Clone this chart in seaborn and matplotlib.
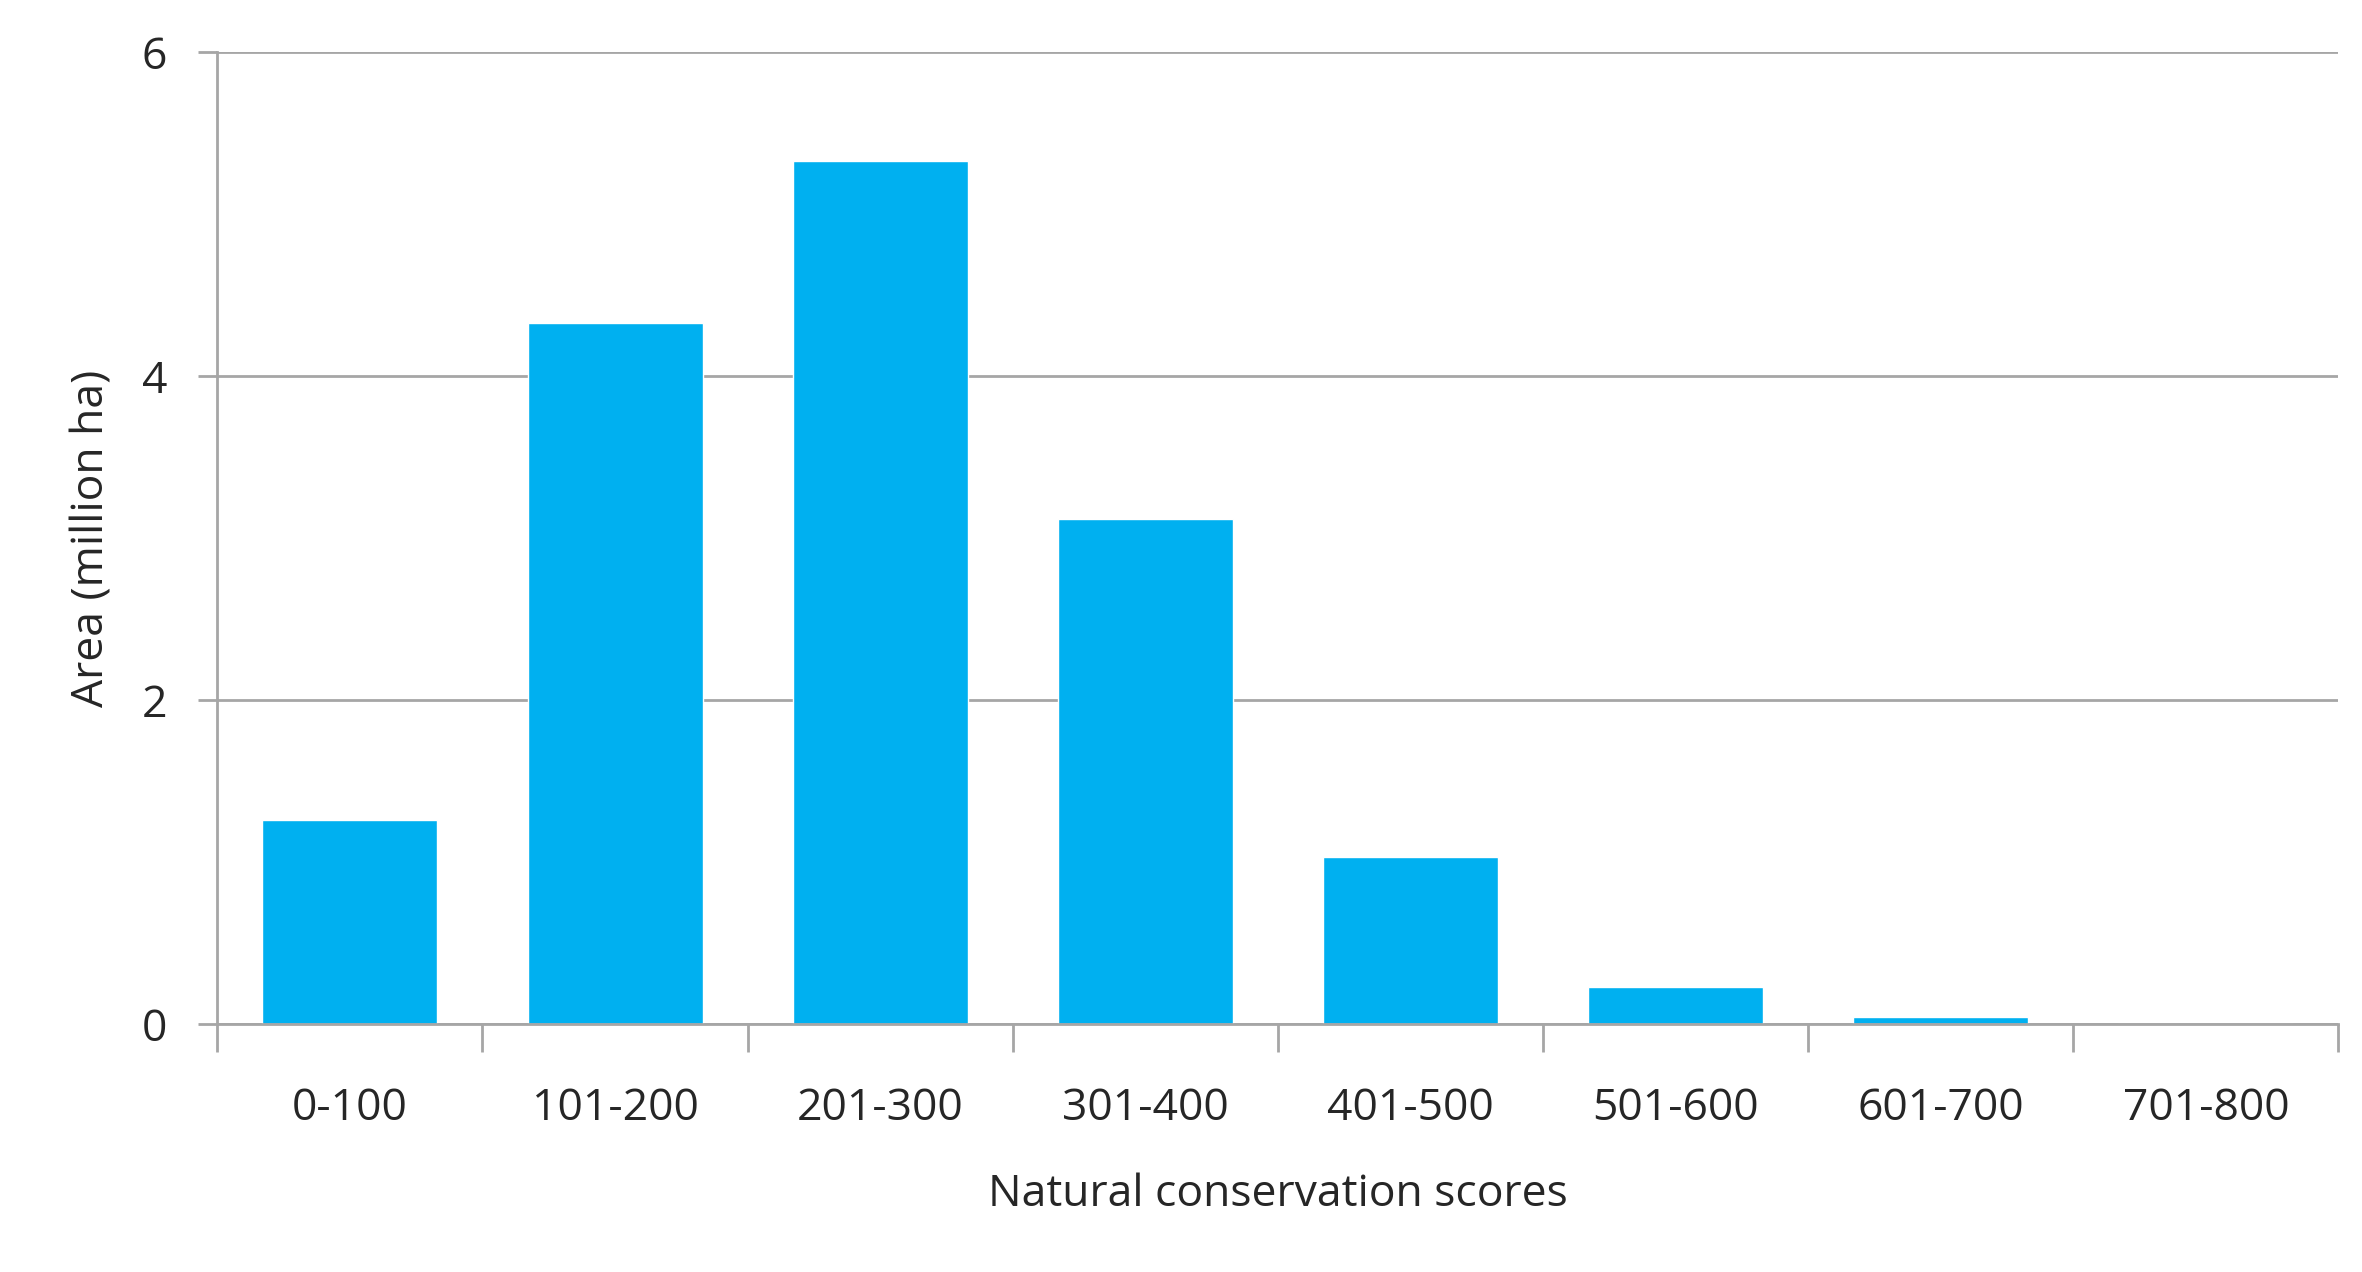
import numpy as np
import matplotlib
matplotlib.use("Agg")
import matplotlib.pyplot as plt
import seaborn as sns
import pandas as pd

categories = ["0-100", "101-200", "201-300", "301-400", "401-500", "501-600", "601-700", "701-800"]
area = [1.26, 4.33, 5.33, 3.12, 1.03, 0.23, 0.04, 0.0]

sns.set_style("white")
plt.rcParams['font.family'] = ['Open Sans', 'DejaVu Sans']

data = pd.DataFrame({'Score': categories, 'Area': area})

fig = plt.figure(figsize=(23.62, 12.72), dpi=100)
ax = fig.add_axes([0.092, 0.195, 0.898, 0.764])
sns.barplot(x='Score', y='Area', data=data, color="#00B0F0", saturation=1, width=0.66, ax=ax)

ax.set_xlim(-0.5, len(categories) - 0.5)
ax.set_ylim(0, 6)
ax.set_yticks([0, 2, 4, 6])
ax.yaxis.grid(True, color="#A6A6A6", linewidth=2)
ax.set_axisbelow(True)

for s in ['top', 'right']:
    ax.spines[s].set_visible(False)
for s in ['left', 'bottom']:
    ax.spines[s].set_color("#A6A6A6")
    ax.spines[s].set_linewidth(2)

# category boundary ticks
ax.set_xticks(np.arange(len(categories) + 1) - 0.5, minor=True)
ax.tick_params(axis='x', which='minor', length=20, width=2, color="#A6A6A6", direction='out')
ax.tick_params(axis='x', which='major', length=0, pad=45, labelsize=32)
ax.tick_params(axis='y', length=14, width=2, color="#A6A6A6", direction='out', labelsize=32, pad=22)
ax.tick_params(left=True, bottom=True, which='both')

ax.set_xlabel('Natural conservation scores', fontsize=32, labelpad=30)
ax.set_ylabel('Area (million ha)', fontsize=32, labelpad=20)

fig.savefig("out.png", dpi=100)
